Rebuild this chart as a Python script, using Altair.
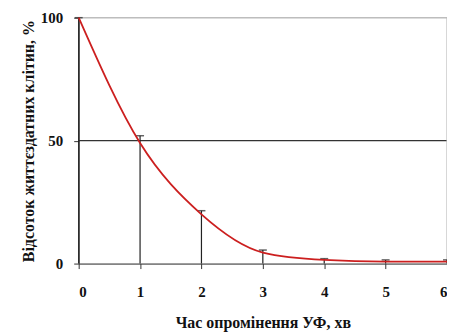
import altair as alt
import pandas as pd

time = [0, 1, 2, 3, 4, 5, 6]
survival = [100, 49, 20, 4.5, 1.5, 0.8, 0.8]
upper = [100, 52, 21.5, 5.5, 2.0, 1.5, 1.5]

df = pd.DataFrame({"t": time, "s": survival, "u": upper, "zero": [0] * len(time)})
grid = pd.DataFrame({"y": [50, 100], "c": ["#333333", "#bdbdbd"], "x0": [0, 0], "x1": [6, 6]})
border = pd.DataFrame({"x": [6], "y0": [0], "y1": [100]})

font = "Liberation Serif, DejaVu Serif, serif"
xs = alt.Scale(domain=[0, 6], nice=False)
ys = alt.Scale(domain=[0, 100], nice=False)

xax = alt.Axis(values=time, format="d", grid=False, tickSize=5, labelPadding=16,
               titlePadding=15, labelFont=font, labelFontSize=15, labelFontWeight="bold",
               titleFont=font, titleFontSize=16, titleFontWeight="bold",
               domainColor="#333", tickColor="#333", labelColor="#111", titleColor="#111")
yax = alt.Axis(values=[0, 50, 100], grid=False, tickSize=5, labelPadding=11,
               titlePadding=4, labelFont=font, labelFontSize=15, labelFontWeight="bold",
               titleFont=font, titleFontSize=16, titleFontWeight="bold",
               domainColor="#333", tickColor="#333", labelColor="#111", titleColor="#111")

gridrules = alt.Chart(grid).mark_rule(strokeWidth=1.2).encode(
    x=alt.X("x0:Q", scale=xs, axis=xax, title="Час опромінення УФ, хв"),
    x2="x1:Q",
    y=alt.Y("y:Q", scale=ys, axis=yax, title="Відсоток життєздатних клітин, %"),
    color=alt.Color("c:N", scale=None),
)
right = alt.Chart(border).mark_rule(color="#bdbdbd", strokeWidth=1.2).encode(
    x=alt.X("x:Q", scale=xs), y=alt.Y("y0:Q", scale=ys), y2="y1:Q"
)
bars = alt.Chart(df).mark_rule(color="#222", strokeWidth=1.2).encode(
    x=alt.X("t:Q", scale=xs), y=alt.Y("zero:Q", scale=ys), y2="u:Q"
)
caps = alt.Chart(df).mark_tick(color="#222", size=8, thickness=1.5, orient="horizontal").encode(
    x=alt.X("t:Q", scale=xs), y=alt.Y("u:Q", scale=ys)
)
line = alt.Chart(df).mark_line(color="#cc1f1f", strokeWidth=1.8, interpolate="monotone").encode(
    x=alt.X("t:Q", scale=xs), y=alt.Y("s:Q", scale=ys)
)

chart = alt.layer(gridrules, right, bars, caps, line).properties(
    width=370, height=247,
    autosize=alt.AutoSizeParams(type="none"),
    padding={"left": 71, "top": 9, "right": 0, "bottom": 70},
).configure_view(stroke=None).configure(background="white")

chart.save("out.html", embed_options={"renderer": "svg", "actions": False})
